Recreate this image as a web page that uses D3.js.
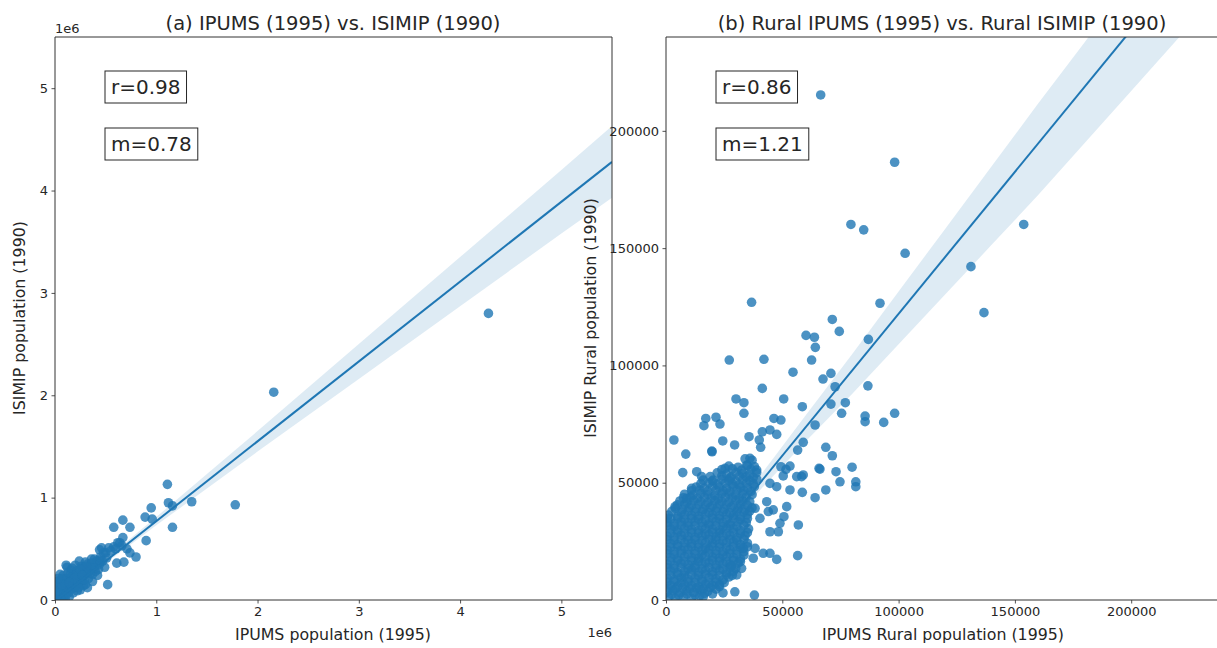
<!DOCTYPE html>
<html>
<head>
<meta charset="utf-8">
<script src="https://cdnjs.cloudflare.com/ajax/libs/d3/7.8.5/d3.min.js"></script>
<style>
body { margin: 0; background: #fff; }
text { font-family: "DejaVu Sans", sans-serif; fill: #262626; }
</style>
</head>
<body>
<div id="chart"></div>
<script>
// tick values
var totalTicks = [0, 1, 2, 3, 4, 5];           // millions
var ruralTicks = [0, 50, 100, 150, 200];       // thousands

// (a) IPUMS 1995 vs ISIMIP 1990, millions of people
var totalPoints = [
  [4.28, 2.80], [2.16, 2.03], [1.78, 0.93], [1.35, 0.96], [1.11, 1.13], [1.12, 0.95],
  [1.16, 0.92], [1.16, 0.71], [0.95, 0.90], [0.89, 0.81], [0.96, 0.79], [0.90, 0.58],
  [0.67, 0.78], [0.74, 0.71], [0.58, 0.71], [0.67, 0.61], [0.64, 0.56], [0.53, 0.51],
  [0.46, 0.51], [0.74, 0.46], [0.80, 0.42], [0.68, 0.37], [0.61, 0.36], [0.52, 0.15],
  [0.49, 0.32], [0.58, 0.52], [0.66, 0.53], [0.71, 0.50], [0.50, 0.46], [0.44, 0.49],
  [0.51, 0.41], [0.44, 0.39], [0.55, 0.48], [0.60, 0.50], [0.62, 0.56], [0.48, 0.46],
  [0.01, 0.02], [0.02, 0.05], [0.03, 0.01], [0.04, 0.08], [0.05, 0.03], [0.06, 0.12],
  [0.07, 0.06], [0.08, 0.02], [0.09, 0.09], [0.10, 0.15], [0.11, 0.05], [0.12, 0.11],
  [0.13, 0.19], [0.14, 0.08], [0.15, 0.14], [0.16, 0.22], [0.17, 0.11], [0.18, 0.17],
  [0.19, 0.26], [0.20, 0.13], [0.21, 0.20], [0.22, 0.29], [0.23, 0.16], [0.24, 0.23],
  [0.25, 0.10], [0.26, 0.27], [0.27, 0.19], [0.28, 0.32], [0.29, 0.24], [0.30, 0.15],
  [0.31, 0.28], [0.32, 0.35], [0.33, 0.21], [0.34, 0.30], [0.35, 0.26], [0.36, 0.36],
  [0.37, 0.18], [0.38, 0.33], [0.40, 0.28], [0.41, 0.38], [0.42, 0.24], [0.44, 0.35],
  [0.03, 0.15], [0.05, 0.19], [0.08, 0.24], [0.12, 0.32], [0.02, 0.10], [0.10, 0.01],
  [0.14, 0.03], [0.06, 0.00], [0.18, 0.07], [0.22, 0.09], [0.16, 0.29], [0.20, 0.34],
  [0.24, 0.38], [0.28, 0.14], [0.32, 0.12], [0.04, 0.13], [0.09, 0.17], [0.11, 0.21],
  [0.15, 0.25], [0.26, 0.33], [0.30, 0.37], [0.35, 0.32], [0.39, 0.40], [0.45, 0.42],
  [0.47, 0.38], [0.05, 0.25], [0.01, 0.18], [0.00, 0.08], [0.02, 0.00], [0.07, 0.21],
  [0.11, 0.34], [0.13, 0.27], [0.17, 0.31], [0.21, 0.25], [0.25, 0.30], [0.29, 0.20],
  [0.33, 0.27], [0.37, 0.25], [0.39, 0.31], [0.43, 0.30], [0.19, 0.21], [0.23, 0.12],
  [0.27, 0.24], [0.07, 0.15], [0.03, 0.21], [0.14, 0.17], [0.31, 0.33], [0.36, 0.40]
];

// (b) rural IPUMS 1995 vs rural ISIMIP 1990, thousands of people
var ruralPoints = [
  // dense core
  [1, 1.2], [4, 0.8], [7.5, 1.5], [11, 0.6], [14.5, 1.8],
  [2.5, 2.4], [5.5, 2.1], [9, 2.6], [12.5, 2.2], [16.5, 2.8],
  [0.5, 3.6], [3, 4.1], [6, 3.2], [9, 3.9], [12, 3.3], [15, 4.4], [18, 3.7],
  [1, 5.1], [4, 4.7], [7, 5.3], [10, 4.9], [13, 5.2], [16, 4.8], [19, 5.4], [21.5, 4.6],
  [2, 6.3], [5, 5.8], [8, 6.6], [11, 6.1], [14, 5.7], [17, 6.8], [20, 6.2], [23, 6.5],
  [0.5, 7.6], [3.5, 7.9], [6.5, 7.4], [9.5, 7.8], [12.5, 7.5], [15.5, 8], [18.5, 7.3], [21.5, 7.7], [25, 7.4],
  [0.5, 9.2], [3.5, 8.7], [6.5, 9.5], [9.5, 8.9], [12.5, 9.4], [15.5, 8.8], [18.5, 9.6], [21.5, 9.1], [24.5, 8.6], [27, 9.8],
  [2, 10.6], [5, 10.9], [8, 10.4], [11, 10.8], [14, 10.5], [17, 11], [20, 10.7], [23, 10.3], [26, 10.9], [28.5, 10.5],
  [2, 12.4], [5, 11.7], [8, 12.2], [11, 12.8], [14, 11.9], [17, 12.5], [20, 12.1], [23, 12.7], [26, 11.8], [29, 12.3],
  [0.5, 13.8], [3.5, 13.4], [6.5, 13.9], [9.5, 13.5], [12.5, 13.7], [15.5, 13.3], [18.5, 13.8], [21.5, 13.6], [24.5, 13.2], [27.5, 13.9], [30, 13.5],
  [0.5, 15.3], [3.5, 14.8], [6.5, 15.6], [9.5, 15.1], [12.5, 14.7], [15.5, 15.4], [18.5, 15.9], [21.5, 14.9], [24.5, 15.5], [27.5, 15.2], [31, 15.7],
  [2, 16.6], [5, 16.9], [8, 16.4], [11, 16.8], [14, 16.5], [17, 16.2], [20, 16.9], [23, 16.6], [26, 16.3], [29, 16.8], [32, 16.4],
  [2, 18.2], [5, 17.6], [8, 18.5], [11, 18.1], [14, 17.8], [17, 18.7], [20, 18.3], [23, 17.9], [26, 18.6], [29, 18.1], [32, 17.5],
  [0.5, 19.8], [3.5, 19.4], [6.5, 19.9], [9.5, 19.5], [12.5, 19.7], [15.5, 19.3], [18.5, 19.9], [21.5, 19.6], [24.5, 19.2], [27.5, 19.8], [30.5, 19.5], [33.5, 19.1],
  [0.5, 21.4], [3.5, 20.8], [6.5, 21.2], [9.5, 21.7], [12.5, 20.9], [15.5, 21.3], [18.5, 21.8], [21.5, 21.1], [24.5, 20.7], [27.5, 21.5], [30.5, 21.2], [33.5, 20.6],
  [2, 22.6], [5, 22.9], [8, 22.4], [11, 22.8], [14, 22.5], [17, 22.2], [20, 22.9], [23, 22.6], [26, 22.3], [29, 22.8], [32, 22.4], [35, 22.7],
  [2, 24.1], [5, 23.7], [8, 24.5], [11, 24.2], [14, 23.8], [17, 24.6], [20, 24.3], [23, 23.9], [26, 24.4], [29, 24.8], [32, 23.6], [35, 24.2],
  [0.5, 25.8], [3.5, 25.4], [6.5, 25.9], [9.5, 25.5], [12.5, 25.7], [15.5, 25.3], [18.5, 25.9], [21.5, 25.6], [24.5, 25.2], [27.5, 25.8], [30.5, 25.5], [33.5, 25.9],
  [0.5, 27.2], [3.5, 26.8], [6.5, 27.6], [9.5, 27.1], [12.5, 26.7], [15.5, 27.4], [18.5, 27.9], [21.5, 26.9], [24.5, 27.3], [27.5, 27.7], [30.5, 26.6], [34, 27.5],
  [2, 28.6], [5, 28.9], [8, 28.4], [11, 28.8], [14, 28.5], [17, 28.2], [20, 28.9], [23, 28.6], [26, 28.3], [29, 28.8], [32, 28.4], [35, 28.7],
  [2, 30.3], [5, 29.8], [8, 30.6], [11, 30.1], [14, 29.7], [17, 30.5], [20, 30.2], [23, 29.9], [26, 30.7], [29, 30.4], [32, 29.6], [35.5, 30.3],
  [0.5, 31.8], [3.5, 31.4], [6.5, 31.9], [9.5, 31.5], [12.5, 31.7], [15.5, 31.3], [18.5, 31.9], [21.5, 31.6], [24.5, 31.2], [27.5, 31.8], [30.5, 31.5], [33.5, 31.9],
  [0.5, 33.1], [3.5, 32.6], [6.5, 33.4], [9.5, 32.9], [12.5, 33.5], [15.5, 33.2], [18.5, 32.8], [21.5, 33.6], [24.5, 33.1], [27.5, 32.7], [31, 33.4], [34.5, 33],
  [2, 34.6], [5, 34.9], [8, 34.4], [11, 34.8], [14, 34.5], [17, 34.2], [20, 34.9], [23, 34.6], [26, 34.3], [29, 34.8], [32, 34.4], [35, 34.7],
  [1, 36.2], [5, 35.7], [8, 36.4], [11, 36.1], [14, 35.8], [17, 36.6], [20, 36.3], [23, 35.9], [26, 36.5], [29, 36.2], [32, 35.6], [35, 36.4],
  [2.5, 37.8], [6.5, 37.4], [9.5, 37.9], [12.5, 37.5], [15.5, 37.7], [18.5, 37.3], [21.5, 37.9], [24.5, 37.6], [27.5, 37.2], [30.5, 37.8], [33.5, 37.5], [36, 37.9],
  [4, 39.1], [7, 38.6], [10, 39.4], [13, 39], [16, 38.7], [19, 39.5], [22, 39.2], [25, 38.8], [28, 39.6], [31, 39.1], [34, 38.5], [37, 39.3],
  [5, 40.6], [8, 40.9], [11, 40.4], [14, 40.8], [17, 40.5], [20, 40.2], [23, 40.9], [26, 40.6], [29, 40.3], [32, 40.8], [35, 40.4],
  [6, 42.2], [9, 41.7], [12, 42.5], [15, 42], [18, 41.6], [21, 42.4], [24, 42.1], [27, 41.8], [30, 42.6], [33, 42.2], [36, 41.9],
  [7.5, 43.6], [10.5, 43.9], [13.5, 43.4], [16.5, 43.8], [19.5, 43.5], [22.5, 43.2], [25.5, 43.9], [28.5, 43.6], [31.5, 43.3], [34.5, 43.8],
  [8, 45.1], [11.5, 44.7], [15, 45.4], [18, 45], [21, 44.6], [24, 45.5], [27, 45.2], [30, 44.8], [33, 45.3], [37, 44.9],
  [11, 46.6], [14.5, 46.9], [18, 46.4], [21.5, 46.8], [24.5, 46.5], [27.5, 46.2], [30.5, 46.9], [33.5, 46.6], [36.5, 46.3],
  [13, 48.2], [16.5, 47.7], [20, 48.4], [23, 48.1], [26, 47.6], [29, 48.5], [32, 48], [35, 47.8], [38, 48.3],
  [15, 49.6], [18.5, 49.9], [22, 49.4], [25.5, 49.8], [28.5, 49.5], [31.5, 49.2], [34.5, 49.9], [37.5, 49.6],
  [16, 51.1], [20, 50.7], [24, 51.4], [27, 51], [30, 50.6], [33, 51.3], [36, 50.9], [39, 51.5],
  [19, 52.6], [24, 52.9], [28, 52.4], [31.5, 52.8], [34.5, 52.5], [37.5, 52.2],
  [22, 54.2], [26, 53.7], [30, 54.4], [33, 54], [36, 53.6], [39, 54.3],
  [24, 55.6], [28.5, 55.9], [32.5, 55.4], [36.5, 55.8],
  [27, 57.1], [31, 56.6], [35, 57.3], [38, 56.9],
  [34, 60.2], [37, 59.6],
  // around the core
  [16, 1.4], [20, 2.6], [24.5, 3], [29.6, 3.5], [23, 5.7], [30.4, 10.7], [32.5, 13.5], [28.2, 14.5],
  [33.2, 22], [37.5, 17.8], [38.3, 22], [40.4, 34.8], [38.3, 39.1], [43.3, 41.9], [44, 37.7], [44.7, 49.7],
  [36.1, 60.4], [34.7, 57.5], [39, 55.4], [25.4, 56.1], [27.5, 51.9], [20.3, 51.1], [15.3, 52.6], [11, 47.6],
  [13.2, 54.7], [8.9, 43.3], [3.9, 39.8], [0.6, 34.8], [38, 2.1], [47.6, 17.3], [44.7, 19.9], [41.8, 19.9],
  [56.6, 18.9], [56.9, 32], [50.7, 35.5], [51.9, 39.8], [53.3, 46.9], [58.3, 52.6], [48.3, 29.1], [44.7, 29.1],
  [49, 32.7], [46.1, 38.4], [58.6, 45.9], [64.1, 43.6], [68.7, 46.9], [66.2, 55.8], [47.6, 48.3], [51.6, 55.7],
  [40.1, 68.2], [3.4, 68.2], [8.5, 62.2], [7.2, 54.3], [19.7, 63.5],
  // outliers
  [66.5, 215.3], [98.3, 186.6], [79.5, 160.1], [85, 157.8], [102.8, 147.8], [153.8, 160.1], [131.1, 142.1],
  [136.7, 122.5], [36.8, 126.9], [92, 126.5], [71.5, 119.6], [74.5, 114.5], [60.2, 112.8], [63.8, 112],
  [64.2, 107.7], [87, 111.1], [27.2, 102.3], [42.1, 102.6], [62.6, 102.3], [54.6, 97.1], [67.5, 94.2],
  [70.9, 96.6], [72.7, 90.9], [86.8, 91.3], [41.4, 90.2], [30.1, 85.7], [33.5, 84.1], [50.6, 85.7],
  [58.6, 82.4], [70.9, 83.5], [77.1, 84.1], [75.5, 79.6], [33.5, 79.6], [85.6, 78.4], [85.6, 76],
  [93.6, 75.7], [98.3, 79.6], [17.1, 77.4], [21.5, 77.9], [23.2, 75], [16.3, 74.3], [46.4, 77.4],
  [49.4, 76.7], [64.1, 74.6], [41.4, 71.7], [44.7, 72.5], [47.6, 70.6], [35.7, 69.6], [24.4, 67.8],
  [29.5, 66.1], [40.7, 65.1], [59, 67.2], [68.7, 65.1], [56.6, 63.9], [19.8, 63.2], [71.5, 61.5],
  [65.8, 56.1], [80, 56.6], [73.1, 54.7], [59, 53.3], [74.8, 50.4], [81.6, 50.4], [81.6, 48.3],
  [56.2, 52.6], [53.3, 57.1], [49.4, 56.8], [50.4, 52.9]
];

// regression lines and confidence bands
var totalFit = [[0, -0.01], [5.5, 4.28]];
var totalBandX  = [0, 0.5, 1, 1.5, 2, 3, 4, 5, 5.5];
var totalBandLo = [-0.03, 0.36, 0.73, 1.09, 1.45, 2.16, 2.87, 3.58, 3.93];
var totalBandHi = [0.01, 0.40, 0.81, 1.23, 1.65, 2.50, 3.35, 4.20, 4.63];

var ruralFit = [[0, 1], [240, 291.4]];
var ruralBandX  = [0, 20, 40, 60, 80, 100, 120, 140, 160, 180, 200, 240];
var ruralBandLo = [-0.5, 23.7, 46.4, 67.6, 87.8, 109, 130.2, 151.4, 172.6, 194.8, 217, 261.4];
var ruralBandHi = [2.5, 26.7, 52.4, 78.6, 104.8, 131.5, 158.2, 184.9, 211.6, 237.8, 264, 316.4];

var statsA = ["r=0.98", "m=0.78"];
var statsB = ["r=0.86", "m=1.21"];

function init() {

    var w = 1217;
    var h = 648;
    var blue = "#1f77b4";

    var svg = d3.select("#chart")
                .append("svg")
                .attr("width", w)
                .attr("height", h);

    svg.append("rect").attr("width", w).attr("height", h).attr("fill", "#fff");

    var drawPanel = function(p) {
        var xScale = d3.scaleLinear().domain(p.xDomain).range([p.left, p.right]);
        var yScale = d3.scaleLinear().domain(p.yDomain).range([600, 37]);
        var g = svg.append("g");

        g.append("clipPath")
         .attr("id", p.id)
         .append("rect")
         .attr("x", p.left)
         .attr("y", 37)
         .attr("width", p.right - p.left)
         .attr("height", 563);

        var plot = g.append("g").attr("clip-path", "url(#" + p.id + ")");

        plot.selectAll("circle")
            .data(p.points)
            .enter()
            .append("circle")
            .attr("cx", function(d) { return xScale(d[0]); })
            .attr("cy", function(d) { return yScale(d[1]); })
            .attr("r", 4.8)
            .attr("fill", blue)
            .attr("fill-opacity", 0.8);

        var area = d3.area()
                     .x(function(d, i) { return xScale(p.bandX[i]); })
                     .y0(function(d, i) { return yScale(p.bandLo[i]); })
                     .y1(function(d, i) { return yScale(p.bandHi[i]); });

        plot.append("path")
            .datum(p.bandX)
            .attr("d", area)
            .attr("fill", blue)
            .attr("fill-opacity", 0.15);

        var line = d3.line()
                     .x(function(d) { return xScale(d[0]); })
                     .y(function(d) { return yScale(d[1]); });

        plot.append("path")
            .datum(p.fit)
            .attr("d", line)
            .attr("fill", "none")
            .attr("stroke", blue)
            .attr("stroke-width", 2);

        // axes
        var xAxis = d3.axisBottom(xScale)
                      .tickValues(p.ticks)
                      .tickSize(3.5)
                      .tickPadding(3.5)
                      .tickFormat(p.fmt);
        var yAxis = d3.axisLeft(yScale)
                      .tickValues(p.ticks)
                      .tickSize(3.5)
                      .tickPadding(3.5)
                      .tickFormat(p.fmt);

        var gx = g.append("g").attr("transform", "translate(0,600)").call(xAxis);
        var gy = g.append("g").attr("transform", "translate(" + p.left + ",0)").call(yAxis);
        [gx, gy].forEach(function(a) {
            a.select(".domain").remove();
            a.selectAll("line").attr("stroke", "#262626").attr("stroke-width", 0.8);
            a.selectAll("text").attr("font-size", 13).attr("font-family", "DejaVu Sans").attr("fill", "#262626");
        });

        // frame
        g.append("path")
         .attr("d", p.frame)
         .attr("fill", "none")
         .attr("stroke", "#333")
         .attr("stroke-width", 1);

        g.append("text")
         .attr("x", p.titleX)
         .attr("y", 30)
         .attr("text-anchor", "middle")
         .attr("font-size", 19.5)
         .text(p.title);

        g.append("text")
         .attr("x", p.xLabelX)
         .attr("y", 640)
         .attr("text-anchor", "middle")
         .attr("font-size", 15.8)
         .text(p.xLabel);

        g.append("text")
         .attr("transform", "translate(" + p.yLabelX + ",318) rotate(-90)")
         .attr("text-anchor", "middle")
         .attr("font-size", 15.8)
         .text(p.yLabel);

        // r and m boxes
        p.stats.forEach(function(s, i) {
            var box = g.append("g");
            var r = box.append("rect");
            var t = box.append("text")
                       .attr("x", p.left + 56)
                       .attr("y", 94 + i * 57)
                       .attr("font-size", 20)
                       .text(s);
            var b = t.node().getBBox();
            r.attr("x", b.x - 6)
             .attr("y", b.y - 4)
             .attr("width", b.width + 12)
             .attr("height", b.height + 8)
             .attr("fill", "#fff")
             .attr("stroke", "#262626")
             .attr("stroke-width", 1);
        });
    };

    drawPanel({
        id: "clipA", left: 55, right: 612,
        xDomain: [0, 5.5], yDomain: [0, 5.5],
        ticks: totalTicks,
        fmt: function(d) { return d; },
        points: totalPoints, fit: totalFit,
        bandX: totalBandX, bandLo: totalBandLo, bandHi: totalBandHi,
        frame: "M55,37H612V600H55Z",
        title: "(a) IPUMS (1995) vs. ISIMIP (1990)", titleX: 333,
        xLabel: "IPUMS population (1995)", xLabelX: 333,
        yLabel: "ISIMIP population (1990)", yLabelX: 25,
        stats: statsA
    });

    drawPanel({
        id: "clipB", left: 666, right: 666 + 240 * 2.326,
        xDomain: [0, 240], yDomain: [0, 240],
        ticks: ruralTicks,
        fmt: function(d) { return d * 1000; },
        points: ruralPoints, fit: ruralFit,
        bandX: ruralBandX, bandLo: ruralBandLo, bandHi: ruralBandHi,
        frame: "M1230,37H666V600H1230",
        title: "(b) Rural IPUMS (1995) vs. Rural ISIMIP (1990)", titleX: 942,
        xLabel: "IPUMS Rural population (1995)", xLabelX: 943,
        yLabel: "ISIMIP Rural population (1990)", yLabelX: 596,
        stats: statsB
    });

    // offset labels for the millions axes
    svg.append("text").attr("x", 55).attr("y", 33).attr("font-size", 13).text("1e6");
    svg.append("text").attr("x", 612).attr("y", 637).attr("text-anchor", "end").attr("font-size", 13).text("1e6");
}

window.onload = init;
</script>
</body>
</html>
